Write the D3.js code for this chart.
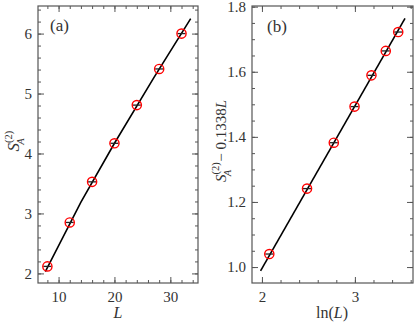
<!DOCTYPE html>
<html><head><meta charset="utf-8">
<script src="https://cdn.jsdelivr.net/npm/d3@7"></script>
<style>body{margin:0;background:#fff}svg{display:block}text{font-family:"Liberation Serif","Times New Roman",serif;fill:#333}</style>
</head><body><svg id="c" width="416" height="323"></svg>
<script>
// Panel (a) data
const sizesL = [8, 12, 16, 20, 24, 28, 32];
const entropyS2 = [2.117, 2.85, 3.527, 4.17, 4.807, 5.41, 6.0];
const fitA_L = [7.63, 14, 20, 27, 33.64];
const fitA_S = [2.03, 3.19, 4.171, 5.258, 6.25];
// Panel (b) data
const lnL = [2.079, 2.485, 2.773, 2.996, 3.178, 3.332, 3.466];
const shiftedS2 = [1.040, 1.241, 1.382, 1.493, 1.589, 1.664, 1.722];
const fitB_lnL = [1.985, 3.539];
const fitB_y = [0.988, 1.764];
// ticks
const ticksAx = [10, 20, 30], ticksAy = [2, 3, 4, 5, 6];
const ticksBx = [2, 3], ticksBy = [1.0, 1.2, 1.4, 1.6, 1.8];

const svg = d3.select("#c");
const frameCol = "#555";

function panel(opt) {
  const g = svg.append("g");
  const x = d3.scaleLinear().domain(opt.xd).range([opt.l, opt.r]);
  const y = d3.scaleLinear().domain(opt.yd).range([opt.b, opt.t]);
  const mx = d3.range(Math.ceil(opt.xd[0] / opt.xm), Math.floor(opt.xd[1] / opt.xm) + 1).map(k => k * opt.xm);
  const my = d3.range(Math.ceil(opt.yd[0] / opt.ym), Math.floor(opt.yd[1] / opt.ym) + 1).map(k => k * opt.ym);
  const axes = [
    [d3.axisBottom(x).tickValues(opt.xt).tickFormat(opt.xf), `translate(0,${opt.b})`, d3.axisBottom(x).tickValues(mx).tickFormat(""), true],
    [d3.axisTop(x).tickValues(opt.xt).tickFormat(""), `translate(0,${opt.t})`, d3.axisTop(x).tickValues(mx).tickFormat(""), false],
    [d3.axisLeft(y).tickValues(opt.yt).tickFormat(opt.yf), `translate(${opt.l},0)`, d3.axisLeft(y).tickValues(my).tickFormat(""), true],
    [d3.axisRight(y).tickValues(opt.yt).tickFormat(""), `translate(${opt.r},0)`, d3.axisRight(y).tickValues(my).tickFormat(""), false]
  ];
  axes.forEach(([maj, tr, min, lab], i) => {
    const gm = g.append("g").attr("transform", tr).call(min.tickSizeInner(-3).tickSizeOuter(0));
    gm.select(".domain").remove();
    gm.selectAll("line").attr("stroke", frameCol);
    const ga = g.append("g").attr("transform", tr).call(maj.tickSizeInner(-6).tickSizeOuter(0).tickPadding(i < 2 ? 8 : 6));
    ga.select(".domain").remove();
    ga.selectAll("line").attr("stroke", frameCol);
    ga.selectAll("text").attr("font-size", 15).attr("fill", "#333").style("font-family", '"Liberation Serif",serif');
  });
  g.append("rect").attr("x", opt.l).attr("y", opt.t).attr("width", opt.r - opt.l).attr("height", opt.b - opt.t)
    .attr("fill", "none").attr("stroke", frameCol).attr("stroke-width", 1.2);
  // fit line
  const line = d3.line().x(d => x(d[0])).y(d => y(d[1]));
  g.append("path").datum(d3.zip(opt.fx, opt.fy)).attr("d", line).attr("fill", "none").attr("stroke", "#000").attr("stroke-width", 1.6);
  // markers
  const pts = d3.zip(opt.px, opt.py);
  g.selectAll("line.eb").data(pts).join("line").attr("class", "eb")
    .attr("x1", d => x(d[0]) - 4).attr("x2", d => x(d[0]) + 4)
    .attr("y1", d => y(d[1])).attr("y2", d => y(d[1])).attr("stroke", "#222").attr("stroke-width", 1.3);
  g.selectAll("circle").data(pts).join("circle")
    .attr("cx", d => x(d[0])).attr("cy", d => y(d[1])).attr("r", 4.6)
    .attr("fill", "none").attr("stroke", "#f00").attr("stroke-width", 1.4);
  return {x, y, g};
}

const A = panel({l: 38, r: 198, t: 6, b: 283, xd: [6.32, 34.95], yd: [1.84, 6.46],
  xt: ticksAx, yt: ticksAy, xm: 2, ym: 0.2, xf: d3.format("d"), yf: d3.format("d"),
  fx: fitA_L, fy: fitA_S, px: sizesL, py: entropyS2});
const B = panel({l: 252, r: 413, t: 6, b: 283, xd: [1.893, 3.625], yd: [0.951, 1.802],
  xt: ticksBx, yt: ticksBy, xm: 0.2, ym: 0.05, xf: d3.format("d"), yf: d3.format(".1f"),
  fx: fitB_lnL, fy: fitB_y, px: lnL, py: shiftedS2});

// panel labels
svg.append("text").attr("x", 50).attr("y", 31).attr("font-size", 17).text("(a)");
svg.append("text").attr("x", 267).attr("y", 32).attr("font-size", 17).text("(b)");
// axis titles
svg.append("text").attr("x", 118).attr("y", 318).attr("text-anchor", "middle").attr("font-size", 16).attr("font-style", "italic").text("L");
const bx = svg.append("text").attr("x", 332).attr("y", 318).attr("text-anchor", "middle").attr("font-size", 16);
bx.append("tspan").text("ln(");
bx.append("tspan").attr("font-style", "italic").text("L");
bx.append("tspan").text(")");

function sLabel(t) {
  t.append("tspan").attr("font-style", "italic").text("S");
  t.append("tspan").attr("font-size", 10.5).attr("dy", -7).text("(2)");
  t.append("tspan").attr("font-size", 10.5).attr("font-style", "italic").attr("dx", -14).attr("dy", 12).text("A");
}
const ya = svg.append("text").attr("transform", "translate(19,141) rotate(-90)").attr("text-anchor", "middle").attr("font-size", 17);
sLabel(ya);
ya.append("tspan").attr("dx", 7).attr("dy", -5).text("");
const yb = svg.append("text").attr("transform", "translate(226,141) rotate(-90)").attr("text-anchor", "middle").attr("font-size", 15);
sLabel(yb);
yb.append("tspan").attr("dy", -5).attr("dx", 8).text("− 0.1338");
yb.append("tspan").attr("font-style", "italic").text("L");
</script></body></html>
